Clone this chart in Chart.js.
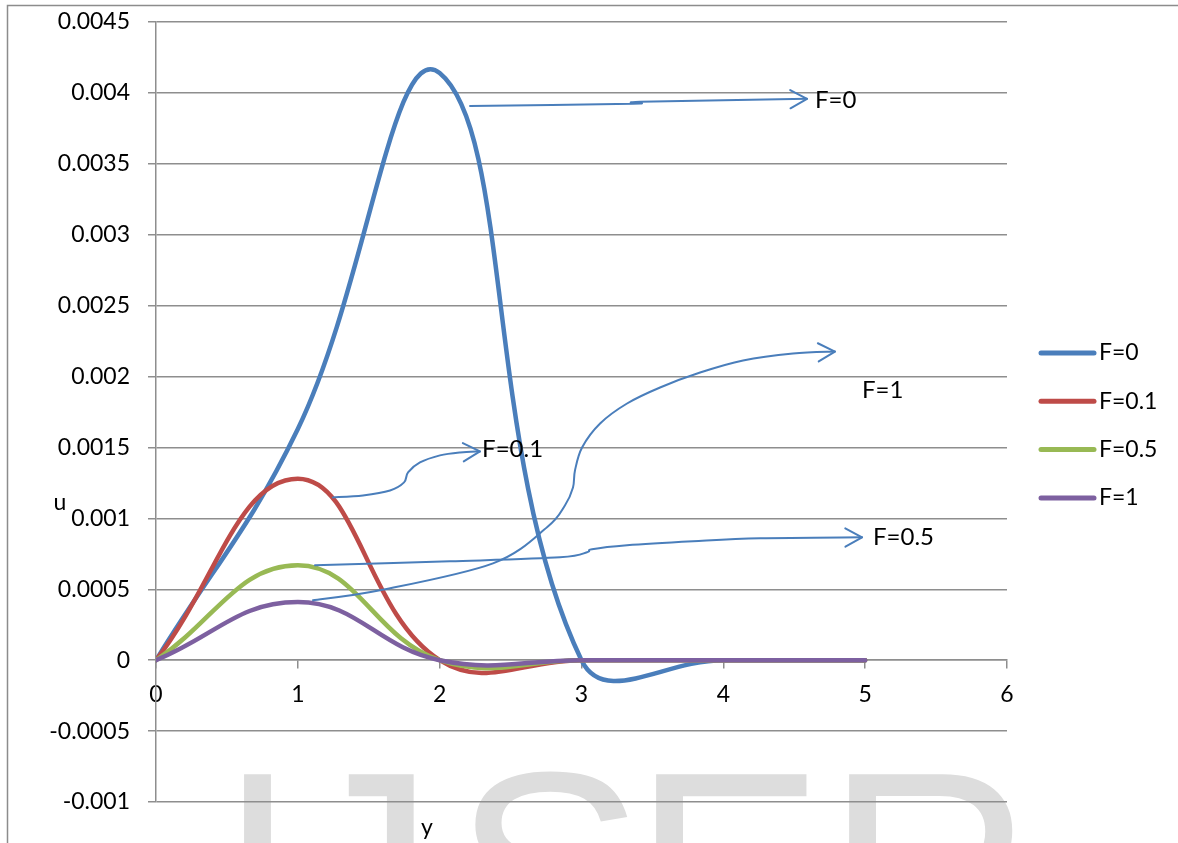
<!DOCTYPE html>
<html>
<head>
<meta charset="utf-8">
<script src="https://cdn.jsdelivr.net/npm/chart.js@4.4.1/dist/chart.umd.min.js"></script>
<style>
  html, body { margin: 0; padding: 0; background: #fff; }
  #wrap { position: relative; width: 1178px; height: 843px; overflow: hidden; }
</style>
</head>
<body>
<div id="wrap"><canvas id="uChart"></canvas></div>
<script>
// y positions where u was computed
const yPoints = [0, 1, 2, 3, 4, 5];
const seriesLabels = ["F=0", "F=0.1", "F=0.5", "F=1"];
const uF0 = [0, 0.00163, 0.00414, 0, 0, 0];
const uF01 = [0, 0.00128, 0, 0, 0, 0];
const uF05 = [0, 0.00067, 0, 0, 0, 0];
const uF1 = [0, 0.00041, 0, 0, 0, 0];

const xTicks = [0, 1, 2, 3, 4, 5, 6];
const uTicks = [-0.001, -0.0005, 0, 0.0005, 0.001, 0.0015, 0.002, 0.0025, 0.003, 0.0035, 0.004, 0.0045];
const uTickLabels = ["-0.001", "-0.0005", "0", "0.0005", "0.001", "0.0015", "0.002", "0.0025", "0.003", "0.0035", "0.004", "0.0045"];

// hand drawn callout arrows, in [y, u] data units
const arrowF0 = [[2.214, 0.003908], [3.363, 0.003923], [3.413, 0.003937], [4.590, 0.003958]];
const arrowF01 = [[1.248, 0.001148], [1.459, 0.001162], [1.650, 0.001197], [1.749, 0.001254], [1.777, 0.001324],
  [1.861, 0.001394], [2.002, 0.001444], [2.143, 0.001465], [2.284, 0.001472]];
const arrowF05 = [[1.121, 0.000669], [2.073, 0.000697], [2.848, 0.000725], [3.039, 0.000761], [3.074, 0.000782],
  [3.321, 0.000810], [3.786, 0.000838], [4.259, 0.000859], [4.978, 0.000866]];
const arrowF1 = [[1.107, 0.000423], [1.579, 0.000493], [2.376, 0.000683], [2.757, 0.000937], [2.884, 0.001092],
  [2.940, 0.001218], [2.954, 0.001338], [3.004, 0.001500], [3.131, 0.001669], [3.321, 0.001810], [3.554, 0.001923],
  [3.836, 0.002028], [4.139, 0.002113], [4.491, 0.002162], [4.787, 0.002176]];
const calloutText = ["F=0", "F=0.1", "F=0.5", "F=1"];
const calloutAt = [[4.646, 0.003951], [2.299, 0.001486], [5.055, 0.000866], [4.978, 0.001901]];

// watermark letters and where their ink starts
const markLetters = ["I", "J", "S", "E", "R"];
const markInkX = [240, 417, 462, 655, 848];

const colors = ["#4A7EBB", "#BE4B48", "#98B954", "#7D60A0"];
const gridColor = "#8e8e8e";
const font = { family: "Lato", size: 23 };

const seriesValues = [uF0, uF01, uF05, uF1];
const datasets = seriesLabels.map((label, i) => ({
  label: label,
  data: yPoints.map((y, j) => ({ x: y, y: seriesValues[i][j] })),
  borderColor: colors[i],
  backgroundColor: colors[i],
  borderWidth: 4.5,
  borderCapStyle: "round",
  borderJoinStyle: "round",
  tension: 0.42,
  pointRadius: 0,
  fill: false,
  order: 4 - i,
}));

function smoothPath(ctx, pts) {
  ctx.beginPath();
  ctx.moveTo(pts[0][0], pts[0][1]);
  for (let i = 0; i < pts.length - 1; i++) {
    const p0 = pts[i - 1] || pts[i];
    const p1 = pts[i];
    const p2 = pts[i + 1];
    const p3 = pts[i + 2] || p2;
    ctx.bezierCurveTo(
      p1[0] + (p2[0] - p0[0]) / 6, p1[1] + (p2[1] - p0[1]) / 6,
      p2[0] - (p3[0] - p1[0]) / 6, p2[1] - (p3[1] - p1[1]) / 6,
      p2[0], p2[1]
    );
  }
  ctx.stroke();
}

function arrowHead(ctx, a, b) {
  const ang = Math.atan2(b[1] - a[1], b[0] - a[0]);
  const len = 19, spread = 0.5;
  ctx.beginPath();
  ctx.moveTo(b[0] - len * Math.cos(ang - spread), b[1] - len * Math.sin(ang - spread));
  ctx.lineTo(b[0], b[1]);
  ctx.lineTo(b[0] - len * Math.cos(ang + spread), b[1] - len * Math.sin(ang + spread));
  ctx.stroke();
}

const extras = {
  id: "extras",
  beforeDraw(chart) {
    const ctx = chart.ctx;
    ctx.save();
    ctx.font = '288px "Liberation Sans"';
    ctx.fillStyle = "#dddddd";
    ctx.textBaseline = "alphabetic";
    ctx.textAlign = "left";
    const base = 770 + ctx.measureText("E").actualBoundingBoxAscent;
    markLetters.forEach((ch, i) => {
      const m = ctx.measureText(ch);
      // J is placed by its stem (right side), the rest by their left edge
      const x = ch === "J" ? markInkX[i] - m.actualBoundingBoxRight : markInkX[i] + m.actualBoundingBoxLeft;
      ctx.fillText(ch, x, base);
    });
    ctx.restore();
  },
  afterDatasetsDraw(chart) {
    const ctx = chart.ctx;
    const sx = chart.scales.x, sy = chart.scales.y;
    const toPx = (p) => [sx.getPixelForValue(p[0]), sy.getPixelForValue(p[1])];
    ctx.save();
    ctx.strokeStyle = colors[0];
    ctx.lineWidth = 2;
    ctx.lineCap = "round";
    ctx.lineJoin = "round";
    [arrowF0, arrowF01, arrowF05, arrowF1].forEach((path) => {
      const pts = path.map(toPx);
      smoothPath(ctx, pts);
      arrowHead(ctx, pts[pts.length - 2], pts[pts.length - 1]);
    });
    ctx.fillStyle = "#000";
    ctx.font = "24px Lato";
    ctx.textBaseline = "middle";
    ctx.textAlign = "left";
    calloutText.forEach((t, i) => {
      const p = toPx(calloutAt[i]);
      ctx.fillText(t, p[0], p[1]);
    });
    ctx.restore();
  },
  afterDraw(chart) {
    const ctx = chart.ctx;
    ctx.save();
    // legend
    ctx.font = "23px Lato";
    ctx.textBaseline = "middle";
    ctx.textAlign = "left";
    chart.data.datasets.forEach((ds, i) => {
      const y = 353 + i * 48.3;
      ctx.strokeStyle = ds.borderColor;
      ctx.lineWidth = 5;
      ctx.lineCap = "round";
      ctx.beginPath();
      ctx.moveTo(1041, y);
      ctx.lineTo(1094, y);
      ctx.stroke();
      ctx.fillStyle = "#000";
      ctx.fillText(ds.label, 1099, y);
    });
    // axis titles
    ctx.textAlign = "center";
    ctx.fillText("u", 60, 503);
    ctx.fillText("y", 427, 828);
    // outer frame
    ctx.strokeStyle = "#8c8c8c";
    ctx.lineWidth = 1.5;
    ctx.strokeRect(7.5, 5.5, 1190, 900);
    ctx.restore();
  },
};

new Chart(document.getElementById("uChart"), {
  type: "line",
  data: { datasets: datasets },
  plugins: [extras],
  options: {
    responsive: true,
    maintainAspectRatio: false,
    animation: false,
    layout: { padding: { left: 0, top: 22, right: 171, bottom: 41 } },
    plugins: {
      legend: { display: false },
      tooltip: { enabled: false },
    },
    scales: {
      x: {
        type: "linear",
        min: 0,
        max: 6,
        position: { y: 0 },
        afterBuildTicks: (s) => { s.ticks = xTicks.map((v) => ({ value: v })); },
        grid: { drawOnChartArea: false, drawTicks: true, tickLength: 8, color: gridColor, lineWidth: 1.5 },
        border: { color: gridColor, width: 1.5 },
        ticks: { font: font, color: "#000", padding: 13, maxRotation: 0, autoSkip: false },
      },
      y: {
        type: "linear",
        min: -0.001,
        max: 0.0045,
        afterBuildTicks: (s) => { s.ticks = uTicks.map((v) => ({ value: v })); },
        afterFit: (s) => {
          s.width = 156;
          s.paddingTop = 0;
          s.paddingBottom = 0;
        },
        grid: { color: gridColor, lineWidth: 1.5, tickLength: 8 },
        border: { color: gridColor, width: 1.5 },
        ticks: {
          font: font,
          color: "#000",
          padding: 18,
          autoSkip: false,
          callback: (v, i) => uTickLabels[i],
        },
      },
    },
  },
});
</script>
</body>
</html>
